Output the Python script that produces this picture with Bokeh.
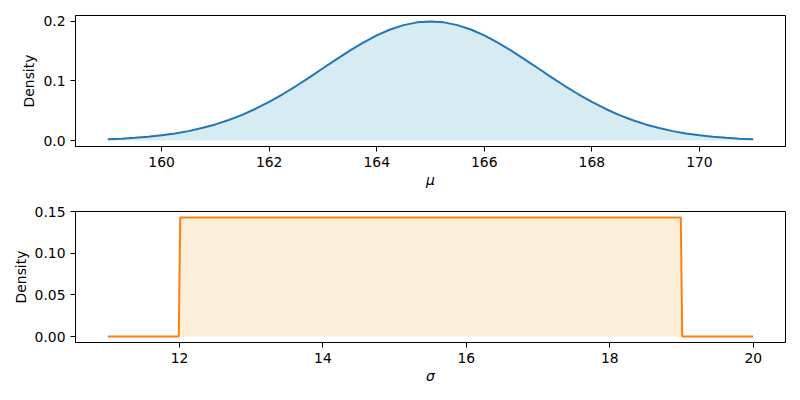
from bokeh.plotting import figure
from bokeh.layouts import column, row
from bokeh.models import Range1d, FixedTicker, NumeralTickFormatter
from bokeh.embed import file_html
from bokeh.resources import INLINE

# Prior on mu
mu_x = [159.0, 159.25, 159.5, 159.75, 160.0, 160.25, 160.5, 160.75, 161.0, 161.25,
        161.5, 161.75, 162.0, 162.25, 162.5, 162.75, 163.0, 163.25, 163.5, 163.75,
        164.0, 164.25, 164.5, 164.75, 165.0, 165.25, 165.5, 165.75, 166.0, 166.25,
        166.5, 166.75, 167.0, 167.25, 167.5, 167.75, 168.0, 168.25, 168.5, 168.75,
        169.0, 169.25, 169.5, 169.75, 170.0, 170.25, 170.5, 170.75, 171.0]
mu_y = [0.0022, 0.0032, 0.0045, 0.0064, 0.0088, 0.0119, 0.0158, 0.0209, 0.0270, 0.0344,
        0.0431, 0.0533, 0.0648, 0.0775, 0.0913, 0.1059, 0.1210, 0.1360, 0.1506, 0.1641,
        0.1760, 0.1859, 0.1933, 0.1979, 0.1995, 0.1979, 0.1933, 0.1859, 0.1760, 0.1641,
        0.1506, 0.1360, 0.1210, 0.1059, 0.0913, 0.0775, 0.0648, 0.0533, 0.0431, 0.0344,
        0.0270, 0.0209, 0.0158, 0.0119, 0.0088, 0.0064, 0.0045, 0.0032, 0.0022]

# Prior on sigma
sigma_x = [11.0, 11.99, 12.01, 18.99, 19.01, 20.0]
sigma_y = [0.0, 0.0, 0.1429, 0.1429, 0.0, 0.0]

mu_ticks = [160, 162, 164, 166, 168, 170]
mu_yticks = [0.0, 0.1, 0.2]
sigma_ticks = [12, 14, 16, 18, 20]
sigma_yticks = [0.0, 0.05, 0.10, 0.15]

FONT = "DejaVu Sans"


def style(p, xlabel, xticks, yticks, yfmt):
    p.outline_line_color = "black"
    p.outline_line_width = 1
    p.xgrid.visible = False
    p.ygrid.visible = False
    p.background_fill_color = "white"
    p.border_fill_color = "white"
    for ax in (p.xaxis[0], p.yaxis[0]):
        ax.major_tick_in = 0
        ax.major_tick_out = 5
        ax.minor_tick_line_color = None
        ax.axis_line_color = "black"
        ax.major_tick_line_color = "black"
        ax.major_label_text_font = FONT
        ax.major_label_text_font_size = "13.9px"
        ax.major_label_text_color = "black"
        ax.axis_label_text_font = FONT
        ax.axis_label_text_font_size = "13.9px"
        ax.axis_label_text_color = "black"
    p.xaxis[0].ticker = FixedTicker(ticks=xticks)
    p.yaxis[0].ticker = FixedTicker(ticks=yticks)
    p.yaxis[0].formatter = NumeralTickFormatter(format=yfmt)
    p.xaxis[0].axis_label = xlabel
    p.xaxis[0].axis_label_text_font_style = "italic"
    p.yaxis[0].axis_label = "Density"
    p.yaxis[0].axis_label_text_font_style = "normal"
    p.xaxis[0].major_label_standoff = 5
    p.yaxis[0].major_label_standoff = 5
    p.xaxis[0].axis_label_standoff = 2
    p.yaxis[0].axis_label_standoff = 3


p1 = figure(frame_width=710, frame_height=131, output_backend="svg", toolbar_location=None,
            x_range=Range1d(158.4, 171.6), y_range=Range1d(-0.00997, 0.2094),
            min_border_left=75, min_border_right=15, min_border_top=15, min_border_bottom=54)
p1.varea(x=mu_x, y1=0, y2=mu_y, fill_color="lightblue", fill_alpha=0.5)
p1.line(mu_x, mu_y, line_color="#1f77b4", line_width=2)
style(p1, "μ", mu_ticks, mu_yticks, "0.0")

p2 = figure(frame_width=710, frame_height=131, output_backend="svg", toolbar_location=None,
            x_range=Range1d(10.55, 20.45), y_range=Range1d(-0.00714, 0.15),
            min_border_left=75, min_border_right=15, min_border_top=11, min_border_bottom=58)
p2.varea(x=sigma_x, y1=0, y2=sigma_y, fill_color="wheat", fill_alpha=0.5)
p2.line(sigma_x, sigma_y, line_color="#ff7f0e", line_width=2)
style(p2, "σ", sigma_ticks, sigma_yticks, "0.00")

layout = column(row(p1), row(p2), spacing=0)

open("out.html", "w").write(file_html(layout, INLINE))
